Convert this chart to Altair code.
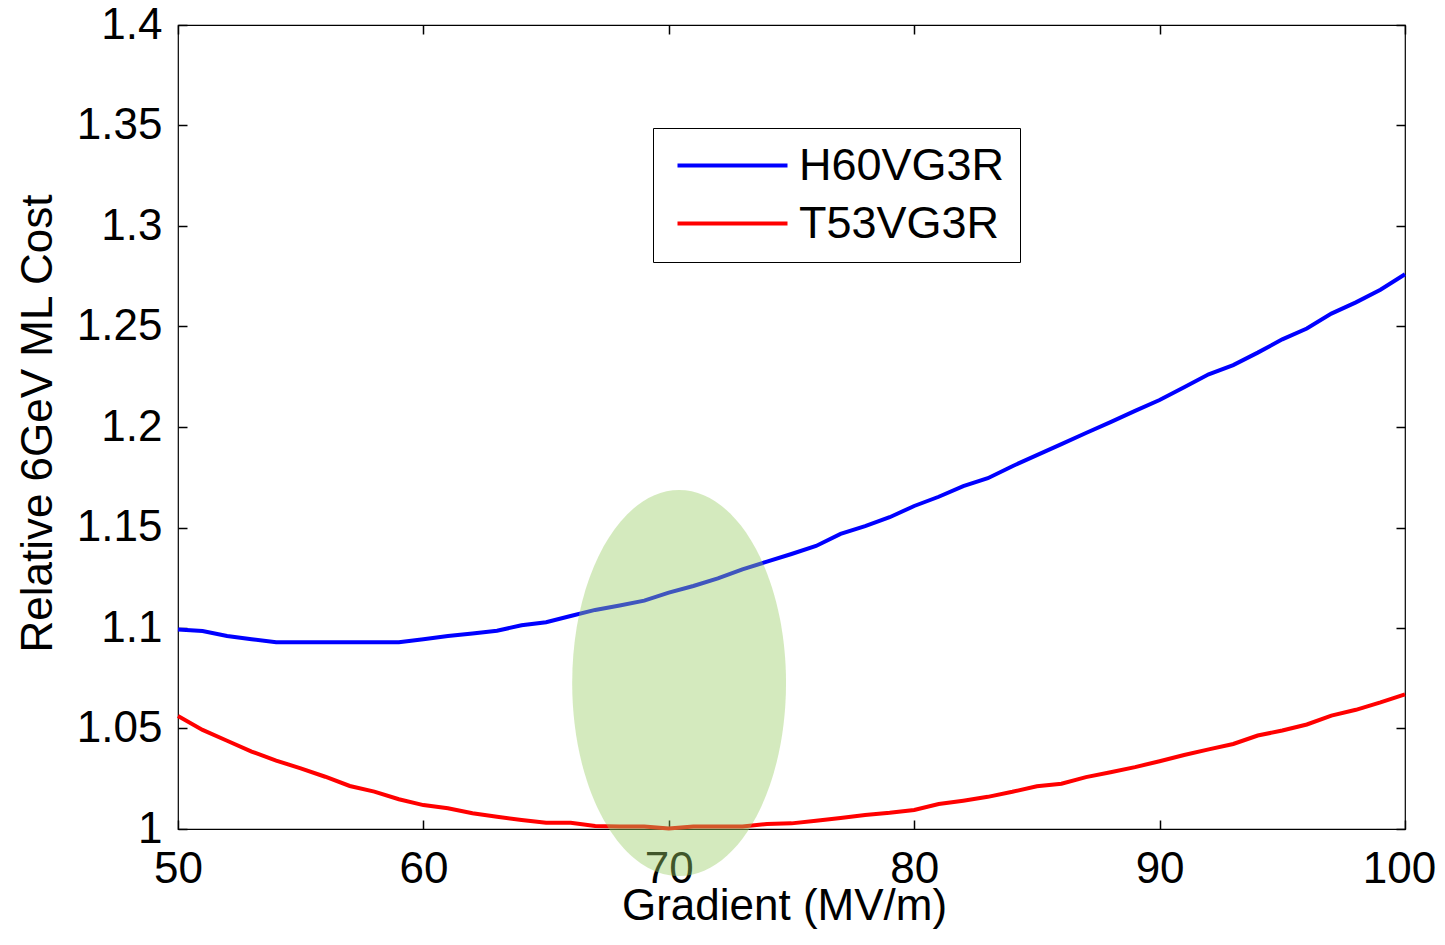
import altair as alt
import pandas as pd

# ---- data ----
gradient = [50, 51, 52, 53, 54, 55, 56, 57, 58, 59,
            60, 61, 62, 63, 64, 65, 66, 67, 68, 69,
            70, 71, 72, 73, 74, 75, 76, 77, 78, 79,
            80, 81, 82, 83, 84, 85, 86, 87, 88, 89,
            90, 91, 92, 93, 94, 95, 96, 97, 98, 99, 100]

h60vg3r = [1.0993, 1.0985, 1.0960, 1.0944, 1.0929, 1.0929, 1.0929, 1.0929, 1.0929, 1.0929,
           1.0944, 1.0960, 1.0973, 1.0986, 1.1014, 1.1029, 1.1060, 1.1090, 1.1112, 1.1136,
           1.1176, 1.1209, 1.1247, 1.1292, 1.1330, 1.1368, 1.1408, 1.1468, 1.1507, 1.1551,
           1.1607, 1.1653, 1.1706, 1.1745, 1.1805, 1.1860, 1.1915, 1.1970, 1.2024, 1.2080,
           1.2134, 1.2198, 1.2262, 1.2308, 1.2370, 1.2436, 1.2490, 1.2564, 1.2620, 1.2683, 1.2760]

t53vg3r = [1.0562, 1.0493, 1.0439, 1.0385, 1.0340, 1.0302, 1.0260, 1.0214, 1.0186, 1.0148,
           1.0119, 1.0103, 1.0078, 1.0061, 1.0045, 1.0031, 1.0031, 1.0015, 1.0012, 1.0012,
           1.0003, 1.0012, 1.0012, 1.0012, 1.0025, 1.0028, 1.0041, 1.0055, 1.0070, 1.0081,
           1.0095, 1.0124, 1.0141, 1.0160, 1.0185, 1.0213, 1.0225, 1.0258, 1.0282, 1.0308,
           1.0337, 1.0368, 1.0396, 1.0423, 1.0465, 1.0490, 1.0520, 1.0564, 1.0593, 1.0630, 1.0670]

series_names = ["H60VG3R", "T53VG3R"]
series_colors = ["#0000ff", "#ff0000"]

x_ticks = [50, 60, 70, 80, 90, 100]
y_ticks = [1.0, 1.05, 1.1, 1.15, 1.2, 1.25, 1.3, 1.35, 1.4]

ellipse_center_x = [70.42]
ellipse_center_y = [1.0726]

# ---- tables ----
df = pd.concat([
    pd.DataFrame({"x": gradient, "y": h60vg3r, "series": series_names[0]}),
    pd.DataFrame({"x": gradient, "y": t53vg3r, "series": series_names[1]}),
])
ell = pd.DataFrame({"cx": ellipse_center_x, "cy": ellipse_center_y})

W, H = 1227, 804
FONT = "Liberation Sans"
FS = 44

xs = alt.Scale(domain=[50, 100], nice=False, zero=False)
ys = alt.Scale(domain=[1.0, 1.4], nice=False, zero=False)

y_label_expr = "format(datum.value, '~g')"

ax_x_main = alt.Axis(orient="bottom", values=x_ticks, ticks=False, tickSize=0, domain=False,
                     grid=False, labelFont=FONT, labelFontSize=FS, labelColor="black",
                     labelPadding=18, labelBaseline="top", labelFlush=False, labelOverlap=False,
                     labelOffset={"condition": {"test": "datum.value >= 100", "value": -6},
                                  "value": 0},
                     title="Gradient (MV/m)", titleFont=FONT, titleFontSize=FS,
                     titleFontWeight="normal", titleColor="black",
                     titleX=606, titleY=90, titleAlign="center", titleBaseline="alphabetic")
ax_y_main = alt.Axis(orient="left", values=y_ticks, ticks=False, tickSize=0, domain=False,
                     grid=False, labelFont=FONT, labelFontSize=FS, labelColor="black",
                     labelPadding=16, labelExpr=y_label_expr, labelFlush=False,
                     labelOverlap=False,
                     title="Relative 6GeV ML Cost", titleFont=FONT, titleFontSize=FS,
                     titleFontWeight="normal", titleColor="black", titleAngle=270,
                     titleX=-127, titleY=398, titleAlign="center", titleBaseline="alphabetic")


def tick_axis(orient, offset, values):
    return alt.Axis(orient=orient, offset=offset, values=values, labels=False, domain=False,
                    grid=False, ticks=True, tickSize=9, tickColor="black", tickWidth=1.5,
                    title=None)


legend = alt.Legend(orient="none", legendX=475, legendY=103, title=None,
                    symbolType="M 0 0 L 20 0", symbolSize=121, symbolStrokeWidth=4,
                    symbolOffset=-13,
                    labelFont=FONT, labelFontSize=45, labelColor="black", labelLimit=500,
                    labelOffset=99, padding=15, rowPadding=12,
                    strokeColor="black", fillColor="white", cornerRadius=0)

lines = alt.Chart(df).mark_line(strokeWidth=4).encode(
    x=alt.X("x:Q", scale=xs, axis=ax_x_main),
    y=alt.Y("y:Q", scale=ys, axis=ax_y_main),
    color=alt.Color("series:N", scale=alt.Scale(domain=series_names, range=series_colors),
                    legend=legend),
)

ticks_a = alt.Chart(df).mark_point(opacity=0).encode(
    x=alt.X("x:Q", scale=xs, axis=tick_axis("top", -H, x_ticks)),
    y=alt.Y("y:Q", scale=ys, axis=tick_axis("right", -W, y_ticks)),
)
ticks_b = alt.Chart(df).mark_point(opacity=0).encode(
    x=alt.X("x:Q", scale=xs, axis=tick_axis("bottom", -H, x_ticks)),
    y=alt.Y("y:Q", scale=ys, axis=tick_axis("left", -W, y_ticks)),
)

ellipse_path = ("M 0.554 0 C 0.554 0.5523 0.306 1 0 1 C -0.306 1 -0.554 0.5523 -0.554 0 "
                "C -0.554 -0.5523 -0.306 -1 0 -1 C 0.306 -1 0.554 -0.5523 0.554 0 Z")
ellipse = alt.Chart(ell).mark_point(shape=ellipse_path, filled=True, fill="#98cd64",
                                    opacity=0.42, strokeWidth=0, size=148996).encode(
    x=alt.X("cx:Q", scale=xs, axis=None),
    y=alt.Y("cy:Q", scale=ys, axis=None),
)

chart = alt.layer(lines, ticks_a, ticks_b, ellipse).resolve_axis(
    x="independent", y="independent"
).properties(
    width=W, height=H,
    autosize=alt.AutoSizeParams(type="none"),
    padding={"left": 170, "top": 17, "right": 32, "bottom": 100},
    background="white",
).configure_view(stroke="black", strokeWidth=1.2)

chart.save("out.html", embed_options={"renderer": "svg", "actions": False})
